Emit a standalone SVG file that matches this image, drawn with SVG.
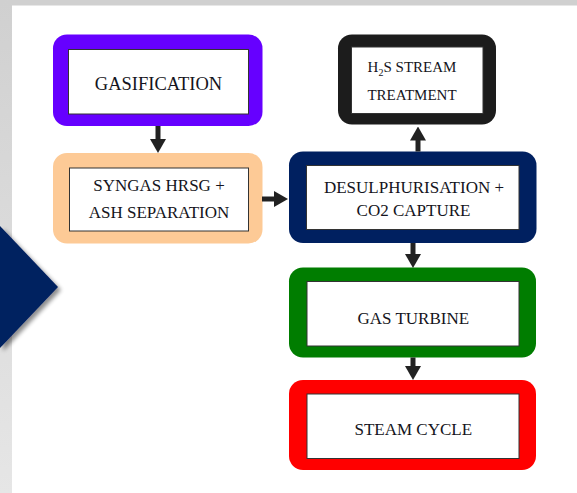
<svg xmlns="http://www.w3.org/2000/svg" width="577" height="493" viewBox="0 0 577 493">
<defs>
<linearGradient id="band" x1="0" y1="0" x2="0" y2="1">
<stop offset="0" stop-color="#d0d0d0"/>
<stop offset="1" stop-color="#e6e6e6"/>
</linearGradient>
<filter id="sh" x="-20%" y="-20%" width="150%" height="150%">
<feGaussianBlur in="SourceAlpha" stdDeviation="2"/>
<feOffset dx="3" dy="3" result="b"/>
<feComponentTransfer><feFuncA type="linear" slope="0.45"/></feComponentTransfer>
<feMerge><feMergeNode/><feMergeNode in="SourceGraphic"/></feMerge>
</filter>
<marker id="ah" markerUnits="userSpaceOnUse" markerWidth="14" markerHeight="16" refX="1" refY="8" orient="auto">
<path d="M0,0 L14,8 L0,16 z" fill="#222"/>
</marker>
<style>
.outer{stroke:none}
.inner{fill:#fff;stroke:#333;stroke-width:1}
.t{fill:#141420;text-anchor:middle;font-size:17px}
.c{stroke:#222;stroke-width:5;fill:none;marker-end:url(#ah)}
</style>
</defs>
<rect x="0" y="0" width="577" height="493" fill="#fff"/>
<rect x="0" y="0" width="577" height="5.5" fill="#d0d0d0"/>
<rect x="0" y="0" width="12" height="493" fill="url(#band)"/>
<polygon points="0,226 58,287 0,348" fill="#002060" filter="url(#sh)"/>

<g font-family="'Liberation Serif', 'Times New Roman', 'DejaVu Serif', serif">
<g id="gasification">
<rect class="outer" x="53" y="34.5" width="209.5" height="91.5" rx="14" fill="#6600ff"/>
<rect class="inner" x="68.5" y="49.5" width="180" height="64.5"/>
<text class="t" x="158.5" y="90" style="font-size:18.5px">GASIFICATION</text>
</g>

<g id="syngas">
<rect class="outer" x="53" y="153" width="209.5" height="90.5" rx="14" fill="#fdca96"/>
<rect class="inner" x="69.5" y="168" width="179" height="63"/>
<text class="t" x="159" y="190.5">SYNGAS HRSG +</text>
<text class="t" x="159" y="218.3">ASH SEPARATION</text>
</g>

<g id="h2s">
<rect class="outer" x="338" y="34.5" width="158" height="90" rx="14" fill="#1c1c1c"/>
<rect class="inner" x="351.5" y="47" width="131.5" height="66.5"/>
<text class="t" x="412" y="71.5" style="font-size:15px">H<tspan font-size="10" dy="4">2</tspan><tspan dy="-4">S STREAM</tspan></text>
<text class="t" x="412" y="100" style="font-size:15px">TREATMENT</text>
</g>

<g id="desulph">
<rect class="outer" x="289" y="151.5" width="247.5" height="91.5" rx="14" fill="#002060"/>
<rect class="inner" x="306.5" y="165.5" width="212.5" height="64"/>
<text class="t" x="414" y="193.3">DESULPHURISATION +</text>
<text class="t" x="413.5" y="216">CO2 CAPTURE</text>
</g>

<g id="gasturbine">
<rect class="outer" x="289" y="267.5" width="247" height="90" rx="14" fill="#007d00"/>
<rect class="inner" x="307" y="281.5" width="212" height="64.5"/>
<text class="t" x="413.3" y="324.3">GAS TURBINE</text>
</g>

<g id="steamcycle">
<rect class="outer" x="289" y="380" width="247" height="90" rx="14" fill="#ff0000"/>
<rect class="inner" x="307" y="394" width="212" height="64.5"/>
<text class="t" x="413.3" y="435">STEAM CYCLE</text>
</g>
</g>

<g id="connectors">
<line class="c" x1="158" y1="126" x2="158" y2="140"/>
<line class="c" x1="262" y1="199" x2="275" y2="199"/>
<line class="c" x1="418" y1="151.5" x2="418" y2="139.5"/>
<line class="c" x1="413" y1="243" x2="413" y2="255"/>
<line class="c" x1="413" y1="357.5" x2="413" y2="367"/>
</g>
</svg>
